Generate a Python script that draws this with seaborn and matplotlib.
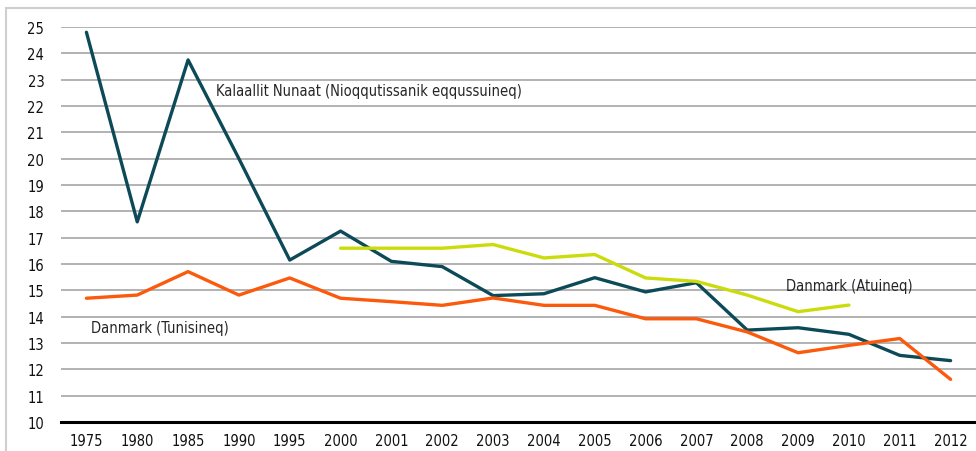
import pandas as pd
import numpy as np
import matplotlib
matplotlib.use("Agg")
import matplotlib.pyplot as plt
import seaborn as sns
from matplotlib.patches import Rectangle

# Data
years = ["1975", "1980", "1985", "1990", "1995", "2000", "2001", "2002", "2003",
         "2004", "2005", "2006", "2007", "2008", "2009", "2010", "2011", "2012"]
kalaallit = [24.8, 17.6, 23.75, 20.0, 16.15, 17.25, 16.1, 15.9, 14.8,
             14.87, 15.48, 14.94, 15.29, 13.49, 13.58, 13.33, 12.53, 12.33]
tunisineq = [14.7, 14.82, 15.71, 14.82, 15.47, 14.7, 14.57, 14.43, 14.71,
             14.43, 14.43, 13.92, 13.92, 13.42, 12.63, 12.91, 13.17, 11.62]
atuineq_years = ["2000", "2001", "2002", "2003", "2004", "2005",
                 "2006", "2007", "2008", "2009", "2010"]
atuineq = [16.6, 16.6, 16.6, 16.74, 16.23, 16.36, 15.47, 15.34, 14.82, 14.19, 14.44]

names = ["Kalaallit Nunaat (Nioqqutissanik eqqussuineq)",
         "Danmark (Tunisineq)", "Danmark (Atuineq)"]
colors = {names[0]: "#0d4a58", names[1]: "#fb5a0c", names[2]: "#cbdc0c"}

df = pd.concat([
    pd.DataFrame({"year": years, "value": kalaallit, "series": names[0]}),
    pd.DataFrame({"year": years, "value": tunisineq, "series": names[1]}),
    pd.DataFrame({"year": atuineq_years, "value": atuineq, "series": names[2]}),
], ignore_index=True)

sns.set_style("white")
# condensed face to get closer to the narrow font of the original
plt.rcParams["font.family"] = ["DejaVu Sans"]
plt.rcParams["font.stretch"] = "condensed"

fig = plt.figure(figsize=(9.76, 4.52), dpi=100)
ax = fig.add_axes([61 / 976, 29 / 452, 1 - 61 / 976, (423 - 28) / 452])

sns.lineplot(data=df, x="year", y="value", hue="series", palette=colors,
             hue_order=names, linewidth=2.4, sort=False, legend=False, ax=ax)

ax.set_ylim(10, 25)
ax.set_xlim(-0.5, len(years) - 0.5)
ax.set_yticks(range(10, 26))
ax.set_xticks(range(len(years)))
ax.set_xticklabels(years)
ax.yaxis.grid(True, color="#a6a6a6", linewidth=1.2)
ax.set_axisbelow(True)
for s in ["top", "right", "left"]:
    ax.spines[s].set_visible(False)
ax.spines["bottom"].set_color("black")
ax.spines["bottom"].set_linewidth(2.2)
ax.tick_params(axis="both", length=0, labelsize=10.5, colors="#111111")
ax.tick_params(axis="y", pad=12)
ax.tick_params(axis="x", pad=8)
ax.set_xlabel("")
ax.set_ylabel("")

# series labels
ax.text(2.55, 22.57, names[0], fontsize=10.5, va="center", ha="left")
ax.text(0.1, 13.6, names[1], fontsize=10.5, va="center", ha="left")
ax.text(13.76, 15.19, names[2], fontsize=10.5, va="center", ha="left")

# light frame around the chart
fig.patches.append(Rectangle((6 / 976, -0.1), 1.2, 1 - 9 / 452 + 0.1,
                             transform=fig.transFigure, fill=False,
                             edgecolor="#cfcfcf", linewidth=1.5))

fig.savefig("out.png", dpi=100)
